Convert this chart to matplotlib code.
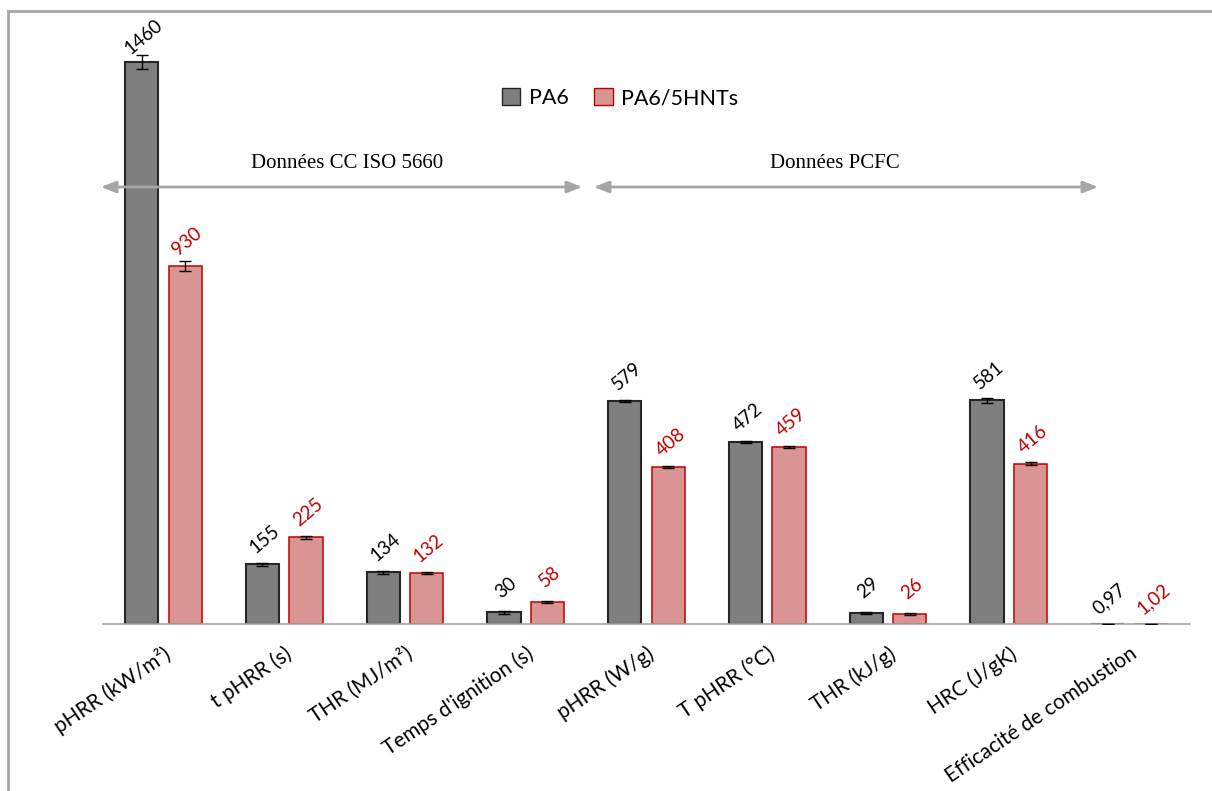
import matplotlib
matplotlib.use("Agg")
import matplotlib.pyplot as plt
import numpy as np
from matplotlib.lines import Line2D
from matplotlib.patches import Patch

categories = ["pHRR (kW/m²)", "t pHRR (s)", "THR (MJ/m²)", "Temps d'ignition (s)",
              "pHRR (W/g)", "T pHRR (°C)", "THR (kJ/g)", "HRC (J/gK)",
              "Efficacité de combustion"]
pa6 = [1460, 155, 134, 30, 579, 472, 29, 581, 0.97]
hnt = [930, 225, 132, 58, 408, 459, 26, 416, 1.02]
pa6_err = [18, 4, 3, 4, 3, 3, 3, 6, 0]
hnt_err = [12, 3, 3, 3, 3, 3, 3, 4, 0]
pa6_labels = ["1460", "155", "134", "30", "579", "472", "29", "581", "0,97"]
hnt_labels = ["930", "225", "132", "58", "408", "459", "26", "416", "1,02"]

fig = plt.figure(figsize=(12.12, 7.91), dpi=100)
ax = fig.add_axes([103/1212, 1-624/791, (1190-103)/1212, 616/791])
x = np.arange(len(categories))
w = 0.275
off = 0.18
ax.bar(x - off, pa6, w, color="#7F7F7F", edgecolor="#262626", linewidth=1.5, zorder=2)
ax.bar(x + off, hnt, w, color="#D99594", edgecolor="#C00000", linewidth=1.1, zorder=2)
ax.errorbar(x - off, pa6, yerr=pa6_err, fmt="none", ecolor="black", elinewidth=1, capsize=4, capthick=1, zorder=3)
ax.errorbar(x + off, hnt, yerr=hnt_err, fmt="none", ecolor="black", elinewidth=1, capsize=4, capthick=1, zorder=3)

ax.set_xlim(-0.5, len(categories) - 0.5)
ax.set_ylim(0, 1600)
for s in ["top", "right", "left"]:
    ax.spines[s].set_visible(False)
ax.spines["bottom"].set_color("#A6A6A6")
ax.spines["bottom"].set_linewidth(1.2)
ax.set_yticks([])
ax.tick_params(axis="x", length=0, pad=14)
ax.set_xticks(x)
ax.set_xticklabels(categories, rotation=34, ha="right", rotation_mode="anchor",
                   fontsize=15, family=["Lato", "DejaVu Sans"])

for xi, v, lab in zip(x - off, pa6, pa6_labels):
    ax.annotate(lab, (xi, v), xytext=(2, 25), textcoords="offset pixels",
                ha="center", va="center", rotation=40, fontsize=13.5,
                family=["Lato", "DejaVu Sans"], color="black", annotation_clip=False)
for xi, v, lab in zip(x + off, hnt, hnt_labels):
    ax.annotate(lab, (xi, v), xytext=(2, 25), textcoords="offset pixels",
                ha="center", va="center", rotation=40, fontsize=13.5,
                family=["Lato", "DejaVu Sans"], color="#C00000", annotation_clip=False)


def fx(px):
    return px / 1212


def fy(py):
    return 1 - py / 791


arrowprops = dict(arrowstyle="<|-|>,head_length=0.9,head_width=0.35", color="#A6A6A6", lw=2)
ax_an = fig.add_axes([0, 0, 1, 1], facecolor="none")
ax_an.set_xlim(0, 1)
ax_an.set_ylim(0, 1)
ax_an.axis("off")
ax_an.annotate("", xy=(fx(98), fy(187)), xytext=(fx(585), fy(187)), arrowprops=arrowprops)
ax_an.annotate("", xy=(fx(591), fy(187)), xytext=(fx(1101), fy(187)), arrowprops=arrowprops)
ax_an.text(fx(347), fy(164), "Données CC ISO 5660", ha="center", va="center",
           fontsize=15, family="Liberation Serif")
ax_an.text(fx(835), fy(164), "Données PCFC", ha="center", va="center",
           fontsize=15, family="Liberation Serif")

# figure border (top and left)
ax_an.add_line(Line2D([fx(8), fx(8)], [0, fy(11)], color="#A6A6A6", lw=2))
ax_an.add_line(Line2D([fx(8), 1], [fy(11), fy(11)], color="#A6A6A6", lw=2))

handles = [Patch(facecolor="#7F7F7F", edgecolor="#262626", label="PA6"),
           Patch(facecolor="#D99594", edgecolor="#C00000", label="PA6/5HNTs")]
ax_an.legend(handles=handles, loc="center", bbox_to_anchor=(fx(620), fy(98)), ncol=2,
             frameon=False, prop={"family": "Lato", "size": 15.5},
             handlelength=0.85, handleheight=0.85, handletextpad=0.4, columnspacing=1.2)

fig.savefig("out.png", dpi=100)
